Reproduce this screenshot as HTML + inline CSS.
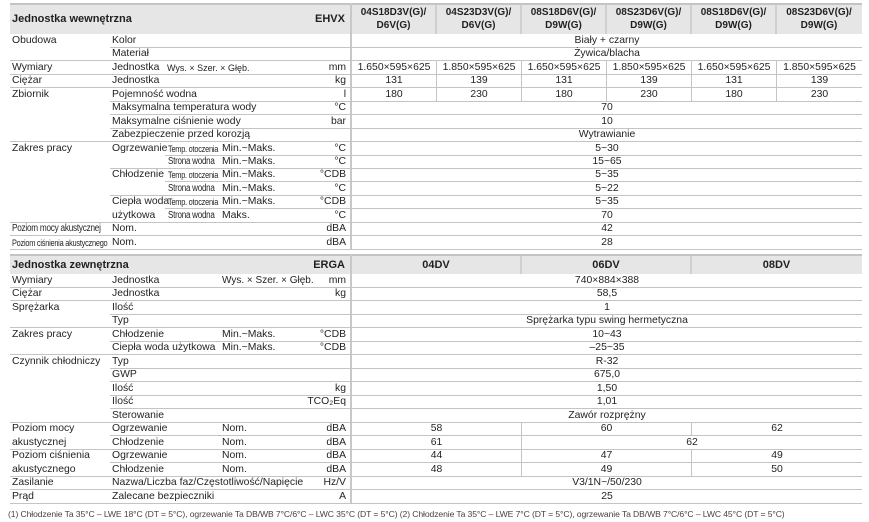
<!DOCTYPE html>
<html><head><meta charset="utf-8"><style>
*{margin:0;padding:0;box-sizing:border-box}
body{width:869px;height:522px;background:#fff;position:relative;overflow:hidden;font-family:"Liberation Sans",sans-serif;font-size:10.4px;color:#231f20}
.r{position:absolute;left:0;width:869px;height:13px;line-height:14px}
.r span{position:absolute;top:0;white-space:nowrap}
.ln{position:absolute;bottom:-1px;right:7px;height:1px;background:#c4c4c4}
.u{right:523px;text-align:right}
.c{text-align:center;height:13px}
.v{border-left:1px solid #c4c4c4}
.s{font-size:9px;letter-spacing:-0.3px;transform:scaleX(0.82);transform-origin:left center}
.hd{position:absolute;left:10px;width:852px;background:#e6e6e6;border-top:2px solid #c4c4c4;font-weight:bold}
.hd span{position:absolute;white-space:nowrap}
.vs{position:absolute;left:350px;width:2px;background:#c8c8c8}
.hv{position:absolute;width:2px;background:#d0d0d0}
</style></head><body>

<div class="hd" style="top:3px;height:31px">
<span style="left:2px;top:8px;font-size:11px">Jednostka wewnętrzna</span>
<span style="right:517px;top:8px;font-size:11px">EHVX</span>
<span style="left:341px;width:85px;top:1px;text-align:center;line-height:13px;font-size:10px">04S18D3V(G)/<br>D6V(G)</span>
<span style="left:426px;width:85px;top:1px;text-align:center;line-height:13px;font-size:10px">04S23D3V(G)/<br>D6V(G)</span>
<span style="left:511px;width:85px;top:1px;text-align:center;line-height:13px;font-size:10px">08S18D6V(G)/<br>D9W(G)</span>
<span style="left:596px;width:85px;top:1px;text-align:center;line-height:13px;font-size:10px">08S23D6V(G)/<br>D9W(G)</span>
<span style="left:681px;width:85px;top:1px;text-align:center;line-height:13px;font-size:10px">08S18D6V(G)/<br>D9W(G)</span>
<span style="left:766px;width:86px;top:1px;text-align:center;line-height:13px;font-size:10px">08S23D6V(G)/<br>D9W(G)</span>
</div>
<div class="hv" style="left:435px;top:5px;height:29px"></div>
<div class="hv" style="left:520px;top:5px;height:29px"></div>
<div class="hv" style="left:605px;top:5px;height:29px"></div>
<div class="hv" style="left:690px;top:5px;height:29px"></div>
<div class="hv" style="left:775px;top:5px;height:29px"></div>
<div class="vs" style="top:3px;height:246px"></div>

<div class="r" style="top:34px"><b class="ln" style="left:110px"></b><span style="left:12px">Obudowa</span><span style="left:112px">Kolor</span><span class="c" style="left:352px;width:510px">Biały + czarny</span></div>
<div class="r" style="top:47px"><b class="ln" style="left:10px"></b><span style="left:112px">Materiał</span><span class="c" style="left:352px;width:510px">Żywica/blacha</span></div>
<div class="r" style="top:61px"><b class="ln" style="left:10px"></b><span style="left:12px">Wymiary</span><span style="left:112px">Jednostka</span><span style="left:167px;font-size:9px">Wys. × Szer. × Głęb.</span><span class="u">mm</span>
<span class="c" style="left:352px;width:84px">1.650×595×625</span><span class="c v" style="left:436px;width:85px">1.850×595×625</span><span class="c v" style="left:521px;width:85px">1.650×595×625</span><span class="c v" style="left:606px;width:85px">1.850×595×625</span><span class="c v" style="left:691px;width:85px">1.650×595×625</span><span class="c v" style="left:776px;width:86px">1.850×595×625</span></div>
<div class="r" style="top:74px"><b class="ln" style="left:10px"></b><span style="left:12px">Ciężar</span><span style="left:112px">Jednostka</span><span class="u">kg</span>
<span class="c" style="left:352px;width:84px">131</span><span class="c v" style="left:436px;width:85px">139</span><span class="c v" style="left:521px;width:85px">131</span><span class="c v" style="left:606px;width:85px">139</span><span class="c v" style="left:691px;width:85px">131</span><span class="c v" style="left:776px;width:86px">139</span></div>
<div class="r" style="top:88px"><b class="ln" style="left:110px"></b><span style="left:12px">Zbiornik</span><span style="left:112px">Pojemność wodna</span><span class="u">l</span>
<span class="c" style="left:352px;width:84px">180</span><span class="c v" style="left:436px;width:85px">230</span><span class="c v" style="left:521px;width:85px">180</span><span class="c v" style="left:606px;width:85px">230</span><span class="c v" style="left:691px;width:85px">180</span><span class="c v" style="left:776px;width:86px">230</span></div>
<div class="r" style="top:101px"><b class="ln" style="left:110px"></b><span style="left:112px">Maksymalna temperatura wody</span><span class="u">°C</span><span class="c" style="left:352px;width:510px">70</span></div>
<div class="r" style="top:115px"><b class="ln" style="left:110px"></b><span style="left:112px">Maksymalne ciśnienie wody</span><span class="u">bar</span><span class="c" style="left:352px;width:510px">10</span></div>
<div class="r" style="top:128px"><b class="ln" style="left:10px"></b><span style="left:112px">Zabezpieczenie przed korozją</span><span class="c" style="left:352px;width:510px">Wytrawianie</span></div>
<div class="r" style="top:142px"><b class="ln" style="left:165px"></b><span style="left:12px">Zakres pracy</span><span style="left:112px">Ogrzewanie</span><span class="s" style="left:168px">Temp. otoczenia</span><span style="left:222px">Min.~Maks.</span><span class="u">°C</span><span class="c" style="left:352px;width:510px">5~30</span></div>
<div class="r" style="top:155px"><b class="ln" style="left:110px"></b><span class="s" style="left:168px;font-size:9.8px">Strona wodna</span><span style="left:222px">Min.~Maks.</span><span class="u">°C</span><span class="c" style="left:352px;width:510px">15~65</span></div>
<div class="r" style="top:168px"><b class="ln" style="left:165px"></b><span style="left:112px">Chłodzenie</span><span class="s" style="left:168px">Temp. otoczenia</span><span style="left:222px">Min.~Maks.</span><span class="u">°CDB</span><span class="c" style="left:352px;width:510px">5~35</span></div>
<div class="r" style="top:182px"><b class="ln" style="left:110px"></b><span class="s" style="left:168px;font-size:9.8px">Strona wodna</span><span style="left:222px">Min.~Maks.</span><span class="u">°C</span><span class="c" style="left:352px;width:510px">5~22</span></div>
<div class="r" style="top:195px"><b class="ln" style="left:165px"></b><span style="left:112px">Ciepła woda</span><span class="s" style="left:168px">Temp. otoczenia</span><span style="left:222px">Min.~Maks.</span><span class="u">°CDB</span><span class="c" style="left:352px;width:510px">5~35</span></div>
<div class="r" style="top:209px"><b class="ln" style="left:10px"></b><span style="left:112px">użytkowa</span><span class="s" style="left:168px;font-size:9.8px">Strona wodna</span><span style="left:222px">Maks.</span><span class="u">°C</span><span class="c" style="left:352px;width:510px">70</span></div>
<div class="r" style="top:222px"><b class="ln" style="left:10px"></b><span class="s" style="left:12px;font-size:10px">Poziom mocy akustycznej</span><span style="left:112px">Nom.</span><span class="u">dBA</span><span class="c" style="left:352px;width:510px">42</span></div>
<div class="r" style="top:236px"><b class="ln" style="left:10px"></b><span class="s" style="left:12px;font-size:9px">Poziom ciśnienia akustycznego</span><span style="left:112px">Nom.</span><span class="u">dBA</span><span class="c" style="left:352px;width:510px">28</span></div>

<div class="hd" style="top:254px;height:20px">
<span style="left:2px;top:3px;font-size:11px">Jednostka zewnętrzna</span>
<span style="right:517px;top:3px;font-size:11px">ERGA</span>
<span style="left:341px;width:170px;top:3px;text-align:center;font-size:11px">04DV</span>
<span style="left:511px;width:170px;top:3px;text-align:center;font-size:11px">06DV</span>
<span style="left:681px;width:171px;top:3px;text-align:center;font-size:11px">08DV</span>
</div>
<div class="hv" style="left:520px;top:256px;height:18px"></div>
<div class="hv" style="left:690px;top:256px;height:18px"></div>
<div class="vs" style="top:254px;height:250px"></div>

<div class="r" style="top:274px"><b class="ln" style="left:10px"></b><span style="left:12px">Wymiary</span><span style="left:112px">Jednostka</span><span style="left:222px;font-size:10px">Wys. × Szer. × Głęb.</span><span class="u">mm</span><span class="c" style="left:352px;width:510px">740×884×388</span></div>
<div class="r" style="top:287px"><b class="ln" style="left:10px"></b><span style="left:12px">Ciężar</span><span style="left:112px">Jednostka</span><span class="u">kg</span><span class="c" style="left:352px;width:510px">58,5</span></div>
<div class="r" style="top:301px"><b class="ln" style="left:110px"></b><span style="left:12px">Sprężarka</span><span style="left:112px">Ilość</span><span class="c" style="left:352px;width:510px">1</span></div>
<div class="r" style="top:314px"><b class="ln" style="left:10px"></b><span style="left:112px">Typ</span><span class="c" style="left:352px;width:510px">Sprężarka typu swing hermetyczna</span></div>
<div class="r" style="top:328px"><b class="ln" style="left:110px"></b><span style="left:12px">Zakres pracy</span><span style="left:112px">Chłodzenie</span><span style="left:222px">Min.~Maks.</span><span class="u">°CDB</span><span class="c" style="left:352px;width:510px">10~43</span></div>
<div class="r" style="top:341px"><b class="ln" style="left:10px"></b><span style="left:112px">Ciepła woda użytkowa</span><span style="left:222px">Min.~Maks.</span><span class="u">°CDB</span><span class="c" style="left:352px;width:510px">–25~35</span></div>
<div class="r" style="top:355px"><b class="ln" style="left:110px"></b><span style="left:12px">Czynnik chłodniczy</span><span style="left:112px">Typ</span><span class="c" style="left:352px;width:510px">R-32</span></div>
<div class="r" style="top:368px"><b class="ln" style="left:110px"></b><span style="left:112px">GWP</span><span class="c" style="left:352px;width:510px">675,0</span></div>
<div class="r" style="top:382px"><b class="ln" style="left:110px"></b><span style="left:112px">Ilość</span><span class="u">kg</span><span class="c" style="left:352px;width:510px">1,50</span></div>
<div class="r" style="top:395px"><b class="ln" style="left:110px"></b><span style="left:112px">Ilość</span><span class="u">TCO₂Eq</span><span class="c" style="left:352px;width:510px">1,01</span></div>
<div class="r" style="top:409px"><b class="ln" style="left:10px"></b><span style="left:112px">Sterowanie</span><span class="c" style="left:352px;width:510px">Zawór rozprężny</span></div>
<div class="r" style="top:422px"><b class="ln" style="left:110px"></b><span style="left:12px">Poziom mocy</span><span style="left:112px">Ogrzewanie</span><span style="left:222px">Nom.</span><span class="u">dBA</span><span class="c" style="left:352px;width:169px">58</span><span class="c v" style="left:521px;width:170px">60</span><span class="c v" style="left:691px;width:171px">62</span></div>
<div class="r" style="top:436px"><b class="ln" style="left:10px"></b><span style="left:12px">akustycznej</span><span style="left:112px">Chłodzenie</span><span style="left:222px">Nom.</span><span class="u">dBA</span><span class="c" style="left:352px;width:169px">61</span><span class="c v" style="left:521px;width:341px">62</span></div>
<div class="r" style="top:449px"><b class="ln" style="left:110px"></b><span style="left:12px">Poziom ciśnienia</span><span style="left:112px">Ogrzewanie</span><span style="left:222px">Nom.</span><span class="u">dBA</span><span class="c" style="left:352px;width:169px">44</span><span class="c v" style="left:521px;width:170px">47</span><span class="c v" style="left:691px;width:171px">49</span></div>
<div class="r" style="top:463px"><b class="ln" style="left:10px"></b><span style="left:12px">akustycznego</span><span style="left:112px">Chłodzenie</span><span style="left:222px">Nom.</span><span class="u">dBA</span><span class="c" style="left:352px;width:169px">48</span><span class="c v" style="left:521px;width:170px">49</span><span class="c v" style="left:691px;width:171px">50</span></div>
<div class="r" style="top:476px"><b class="ln" style="left:10px"></b><span style="left:12px">Zasilanie</span><span style="left:112px">Nazwa/Liczba faz/Częstotliwość/Napięcie</span><span class="u">Hz/V</span><span class="c" style="left:352px;width:510px">V3/1N~/50/230</span></div>
<div class="r" style="top:490px"><b class="ln" style="left:10px"></b><span style="left:12px">Prąd</span><span style="left:112px">Zalecane bezpieczniki</span><span class="u">A</span><span class="c" style="left:352px;width:510px">25</span></div>

<div style="position:absolute;left:8px;top:509px;font-size:8.6px;color:#444;white-space:nowrap;letter-spacing:-0.1px">(1) Chłodzenie Ta 35°C – LWE 18°C (DT = 5°C), ogrzewanie Ta DB/WB 7°C/6°C – LWC 35°C (DT = 5°C) (2) Chłodzenie Ta 35°C – LWE 7°C (DT = 5°C), ogrzewanie Ta DB/WB 7°C/6°C – LWC 45°C (DT = 5°C)</div>
</body></html>
